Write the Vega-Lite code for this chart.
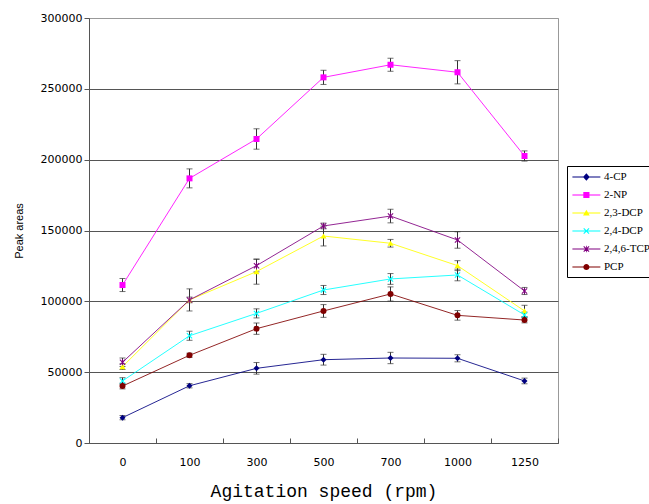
{
  "$schema": "https://vega.github.io/schema/vega-lite/v6.json",
  "width": 469,
  "height": 425,
  "autosize": {"type": "none"},
  "padding": {"left": 89, "top": 18, "right": 91, "bottom": 61},
  "background": "white",
  "config": {
    "view": {"stroke": "#999", "strokeWidth": 1},
    "axisX": {
      "titleFont": "Liberation Mono", "titleFontSize": 18, "titleFontWeight": "normal", "titleColor": "black", "titlePadding": 15,
      "labelFont": "DejaVu Sans", "labelFontSize": 11, "labelColor": "black", "labelAngle": 0, "labelPadding": 18,
      "tickBand": "extent", "tickSize": -5, "tickColor": "#555", "domainColor": "#555", "grid": false
    },
    "axisY": {
      "titleFont": "Liberation Sans", "titleFontSize": 11, "titleFontWeight": "normal", "titleColor": "black", "titlePadding": 16,
      "labelFont": "DejaVu Sans", "labelFontSize": 11, "labelColor": "black", "labelPadding": 2,
      "tickSize": 5, "tickColor": "#555", "domainColor": "#555", "grid": true,
      "gridColor": {"condition": {"test": "datum.value === 300000", "value": "#999"}, "value": "#555"}
    },
    "legend": {
      "orient": "none", "legendX": 478, "legendY": 148,
      "strokeColor": "black", "fillColor": "white", "padding": 5,
      "symbolSize": 125, "symbolStrokeWidth": 0, "symbolOpacity": 1,
      "labelFont": "Liberation Serif", "labelFontSize": 11, "labelColor": "black",
      "labelOffset": 20, "rowPadding": 7
    }
  },
  "data": {"values": [
    {"compound": "4-CP", "speed": "0", "value": 17900, "lo": 16400, "hi": 19400},
    {"compound": "4-CP", "speed": "100", "value": 40400, "lo": 38900, "hi": 41900},
    {"compound": "4-CP", "speed": "300", "value": 52700, "lo": 48600, "hi": 56800},
    {"compound": "4-CP", "speed": "500", "value": 58800, "lo": 55000, "hi": 62600},
    {"compound": "4-CP", "speed": "700", "value": 60000, "lo": 56000, "hi": 64000},
    {"compound": "4-CP", "speed": "1000", "value": 59800, "lo": 57300, "hi": 62300},
    {"compound": "4-CP", "speed": "1250", "value": 43800, "lo": 41800, "hi": 45800},
    {"compound": "2-NP", "speed": "0", "value": 111500, "lo": 106900, "hi": 116100},
    {"compound": "2-NP", "speed": "100", "value": 186800, "lo": 180100, "hi": 193500},
    {"compound": "2-NP", "speed": "300", "value": 214600, "lo": 207400, "hi": 221800},
    {"compound": "2-NP", "speed": "500", "value": 258100, "lo": 253100, "hi": 263100},
    {"compound": "2-NP", "speed": "700", "value": 267000, "lo": 262400, "hi": 271600},
    {"compound": "2-NP", "speed": "1000", "value": 261700, "lo": 253500, "hi": 269900},
    {"compound": "2-NP", "speed": "1250", "value": 202600, "lo": 199000, "hi": 206200},
    {"compound": "2,3-DCP", "speed": "0", "value": 53900, "lo": 51900, "hi": 55900},
    {"compound": "2,3-DCP", "speed": "100", "value": 101000, "lo": 93200, "hi": 108800},
    {"compound": "2,3-DCP", "speed": "300", "value": 121000, "lo": 112100, "hi": 129900},
    {"compound": "2,3-DCP", "speed": "500", "value": 146100, "lo": 139100, "hi": 153100},
    {"compound": "2,3-DCP", "speed": "700", "value": 141000, "lo": 138300, "hi": 143700},
    {"compound": "2,3-DCP", "speed": "1000", "value": 125200, "lo": 121700, "hi": 128700},
    {"compound": "2,3-DCP", "speed": "1250", "value": 93200, "lo": 89200, "hi": 97200},
    {"compound": "2,4-DCP", "speed": "0", "value": 43800, "lo": 41500, "hi": 46100},
    {"compound": "2,4-DCP", "speed": "100", "value": 75700, "lo": 72500, "hi": 78900},
    {"compound": "2,4-DCP", "speed": "300", "value": 91500, "lo": 88300, "hi": 94700},
    {"compound": "2,4-DCP", "speed": "500", "value": 108000, "lo": 104800, "hi": 111200},
    {"compound": "2,4-DCP", "speed": "700", "value": 115800, "lo": 112000, "hi": 119600},
    {"compound": "2,4-DCP", "speed": "1000", "value": 118600, "lo": 114500, "hi": 122700},
    {"compound": "2,4-DCP", "speed": "1250", "value": 90400, "lo": 88400, "hi": 92400},
    {"compound": "2,4,6-TCP", "speed": "0", "value": 57000, "lo": 54000, "hi": 60000},
    {"compound": "2,4,6-TCP", "speed": "100", "value": 101000, "lo": 99000, "hi": 103000},
    {"compound": "2,4,6-TCP", "speed": "300", "value": 125200, "lo": 120800, "hi": 129600},
    {"compound": "2,4,6-TCP", "speed": "500", "value": 153200, "lo": 151200, "hi": 155200},
    {"compound": "2,4,6-TCP", "speed": "700", "value": 160200, "lo": 155400, "hi": 165000},
    {"compound": "2,4,6-TCP", "speed": "1000", "value": 143300, "lo": 137500, "hi": 149100},
    {"compound": "2,4,6-TCP", "speed": "1250", "value": 107300, "lo": 104800, "hi": 109800},
    {"compound": "PCP", "speed": "0", "value": 40200, "lo": 38200, "hi": 42200},
    {"compound": "PCP", "speed": "100", "value": 61900, "lo": 60400, "hi": 63400},
    {"compound": "PCP", "speed": "300", "value": 80700, "lo": 76700, "hi": 84700},
    {"compound": "PCP", "speed": "500", "value": 93200, "lo": 88700, "hi": 97700},
    {"compound": "PCP", "speed": "700", "value": 105200, "lo": 100200, "hi": 110200},
    {"compound": "PCP", "speed": "1000", "value": 90100, "lo": 86700, "hi": 93500},
    {"compound": "PCP", "speed": "1250", "value": 86800, "lo": 84800, "hi": 88800}
  ]},
  "encoding": {
    "x": {
      "field": "speed", "type": "ordinal",
      "sort": ["0", "100", "300", "500", "700", "1000", "1250"],
      "scale": {"type": "band", "paddingInner": 0, "paddingOuter": 0},
      "title": "Agitation speed (rpm)"
    }
  },
  "layer": [
    {
      "mark": {"type": "line", "strokeWidth": 1, "opacity": 0.85},
      "encoding": {
        "y": {"field": "value", "type": "quantitative", "title": "Peak areas",
              "scale": {"domain": [0, 300000]},
              "axis": {"values": [0, 50000, 100000, 150000, 200000, 250000, 300000], "format": "d"}},
        "color": {
          "field": "compound", "type": "nominal", "title": null,
          "scale": {
            "domain": ["4-CP", "2-NP", "2,3-DCP", "2,4-DCP", "2,4,6-TCP", "PCP"],
            "range": ["#000080", "#FF00FF", "#FFFF00", "#00FFFF", "#800080", "#800000"]
          }
        }
      }
    },
    {
      "mark": {"type": "point", "filled": true, "opacity": 0},
      "encoding": {
        "y": {"field": "value", "type": "quantitative", "title": "Peak areas"},
        "color": {"field": "compound", "type": "nominal", "title": null},
        "shape": {
          "field": "compound", "type": "nominal", "title": null,
          "scale": {
            "domain": ["4-CP", "2-NP", "2,3-DCP", "2,4-DCP", "2,4,6-TCP", "PCP"],
            "range": [
              "M-1,-0.09H4V0.09H-1ZM1.5,-0.65L2.1,0L1.5,0.65L0.9,0Z",
              "M-1,-0.09H4V0.09H-1ZM0.95,-0.55H2.05V0.55H0.95Z",
              "M-1,-0.09H4V0.09H-1ZM1.5,-0.6L2.1,0.45L0.9,0.45Z",
              "M-1,-0.09H4V0.09H-1ZM0.95,-0.41L1.09,-0.55L1.5,-0.14L1.91,-0.55L2.05,-0.41L1.64,0L2.05,0.41L1.91,0.55L1.5,0.14L1.09,0.55L0.95,0.41L1.36,0Z",
              "M-1,-0.09H4V0.09H-1ZM0.95,-0.41L1.09,-0.55L1.5,-0.14L1.91,-0.55L2.05,-0.41L1.64,0L2.05,0.41L1.91,0.55L1.5,0.14L1.09,0.55L0.95,0.41L1.36,0ZM1.43,-0.6H1.57V0.6H1.43Z",
              "M-1,-0.09H4V0.09H-1ZM0.95,0A0.55,0.55 0 1 1 2.05,0A0.55,0.55 0 1 1 0.95,0Z"
            ]
          }
        }
      }
    },
    {
      "mark": {"type": "errorbar", "color": "#333", "ticks": {"size": 6, "color": "#333"}, "rule": {"color": "#333", "strokeWidth": 1}},
      "encoding": {
        "y": {"field": "lo", "type": "quantitative", "title": "Peak areas"},
        "y2": {"field": "hi"}
      }
    },
    {
      "mark": {"type": "point", "filled": true, "size": 36, "opacity": 1, "shape": "diamond"},
      "transform": [{"filter": "datum.compound === '4-CP'"}],
      "encoding": {"y": {"field": "value", "type": "quantitative", "title": "Peak areas"}, "color": {"field": "compound", "type": "nominal", "title": null}}
    },
    {
      "mark": {"type": "point", "filled": true, "size": 36, "opacity": 1, "shape": "square"},
      "transform": [{"filter": "datum.compound === '2-NP'"}],
      "encoding": {"y": {"field": "value", "type": "quantitative", "title": "Peak areas"}, "color": {"field": "compound", "type": "nominal", "title": null}}
    },
    {
      "mark": {"type": "point", "filled": true, "size": 36, "opacity": 1, "shape": "triangle-up"},
      "transform": [{"filter": "datum.compound === '2,3-DCP'"}],
      "encoding": {"y": {"field": "value", "type": "quantitative", "title": "Peak areas"}, "color": {"field": "compound", "type": "nominal", "title": null}}
    },
    {
      "mark": {"type": "point", "filled": true, "size": 36, "opacity": 1, "shape": "M-1,-0.75L-0.75,-1L0,-0.25L0.75,-1L1,-0.75L0.25,0L1,0.75L0.75,1L0,0.25L-0.75,1L-1,0.75L-0.25,0Z"},
      "transform": [{"filter": "datum.compound === '2,4-DCP'"}],
      "encoding": {"y": {"field": "value", "type": "quantitative", "title": "Peak areas"}, "color": {"field": "compound", "type": "nominal", "title": null}}
    },
    {
      "mark": {"type": "point", "filled": true, "size": 36, "opacity": 1, "shape": "M-1,-0.75L-0.75,-1L0,-0.25L0.75,-1L1,-0.75L0.25,0L1,0.75L0.75,1L0,0.25L-0.75,1L-1,0.75L-0.25,0ZM-0.13,-1.1H0.13V1.1H-0.13Z"},
      "transform": [{"filter": "datum.compound === '2,4,6-TCP'"}],
      "encoding": {"y": {"field": "value", "type": "quantitative", "title": "Peak areas"}, "color": {"field": "compound", "type": "nominal", "title": null}}
    },
    {
      "mark": {"type": "point", "filled": true, "size": 36, "opacity": 1, "shape": "circle"},
      "transform": [{"filter": "datum.compound === 'PCP'"}],
      "encoding": {"y": {"field": "value", "type": "quantitative", "title": "Peak areas"}, "color": {"field": "compound", "type": "nominal", "title": null}}
    }
  ]
}
